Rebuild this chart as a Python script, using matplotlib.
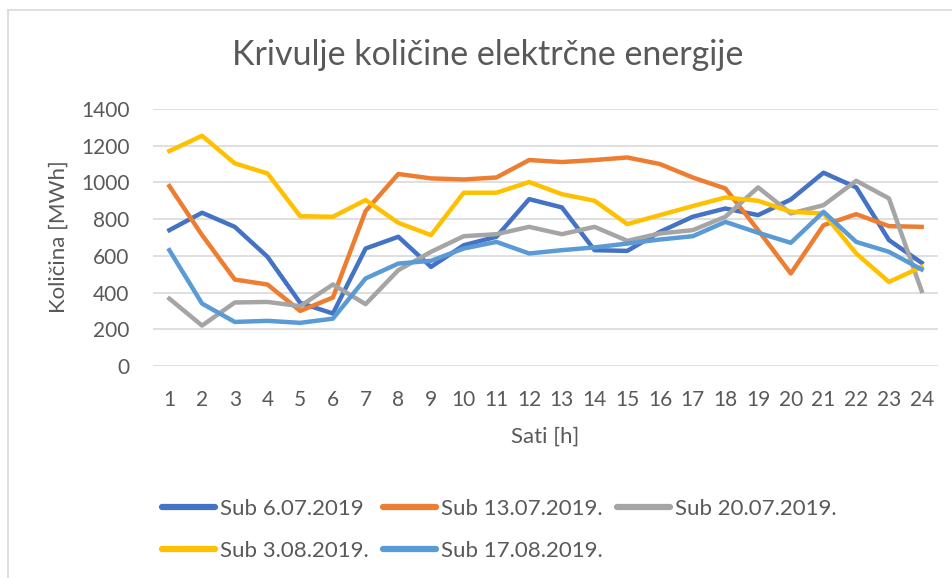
import matplotlib
matplotlib.use("Agg")
import matplotlib.pyplot as plt
from matplotlib.lines import Line2D

# data (MWh per hour)
hours = list(range(1, 25))
sub_0607 = [740, 835, 758, 595, 344, 286, 640, 704, 540, 658, 704, 909,
            864, 631, 627, 731, 813, 858, 822, 907, 1053, 973, 686, 562]
sub_1307 = [980, 713, 471, 444, 300, 373, 844, 1046, 1022, 1016, 1027, 1122,
            1111, 1122, 1136, 1100, 1027, 967, 740, 504, 767, 827, 762, 758]
sub_2007 = [367, 220, 346, 349, 326, 444, 337, 522, 622, 707, 718, 758,
            718, 758, 682, 722, 740, 813, 973, 831, 876, 1009, 913, 409]
sub_0308 = [1171, 1254, 1104, 1049, 816, 813, 904, 780, 713, 944, 944, 1002,
            936, 900, 773, 822, 871, 918, 900, 840, 831, 613, 458, 540]
sub_1708 = [631, 340, 240, 246, 235, 258, 477, 558, 573, 640, 676, 613,
            631, 646, 667, 689, 707, 785, 726, 671, 840, 676, 622, 526]

labels = ["Sub 6.07.2019", "Sub 13.07.2019.", "Sub 20.07.2019.",
          "Sub 3.08.2019.", "Sub 17.08.2019."]
colors = ["#4472C4", "#ED7D31", "#A5A5A5", "#FFC000", "#5B9BD5"]
series = [sub_0607, sub_1307, sub_2007, sub_0308, sub_1708]

txt = "#595959"
plt.rcParams["font.family"] = ["Lato", "DejaVu Sans"]

W, H = 953, 578
fig = plt.figure(figsize=(W / 100, H / 100), dpi=100)
ax = fig.add_axes([153 / W, 1 - 366 / H, (938 - 153) / W, (366 - 109) / H])

lines = []
for vals, lab, col in zip(series, labels, colors):
    l, = ax.plot(hours, vals, color=col, lw=3.2, label=lab, solid_joinstyle="round")
    lines.append(l)

ax.set_xlim(0.5, 24.5)
ax.set_ylim(0, 1400)
ax.set_yticks(range(0, 1401, 200))
ax.set_xticks(hours)
ax.grid(axis="y", color="#D9D9D9", lw=1.2)
ax.set_axisbelow(True)
for s in ax.spines.values():
    s.set_visible(False)
ax.tick_params(length=0, labelsize=15, colors=txt)
ax.tick_params(axis="x", pad=17)
ax.tick_params(axis="y", pad=17)

fig.text(545 / W, 1 - 437 / H, "Sati [h]", ha="center", va="center", fontsize=16, color=txt)
fig.text(59 / W, 1 - 237 / H, "Količina [MWh]", ha="center", va="center",
         rotation=90, fontsize=16, color=txt)
fig.text(488 / W, 1 - 55 / H, "Krivulje količine elektrčne energije",
         ha="center", va="center", fontsize=24.5, color=txt)

# legend filled row by row (3 columns)
order = [0, 3, 1, 4, 2]
leg = fig.legend([lines[i] for i in order], [labels[i] for i in order],
                 ncol=3, loc="upper left", bbox_to_anchor=(162 / W, 1 - 499 / H),
                 frameon=False, fontsize=16, handlelength=2.4, handletextpad=0.2,
                 columnspacing=0.65, labelspacing=1.0, borderpad=0, borderaxespad=0)
for t in leg.get_texts():
    t.set_color(txt)
for h in leg.legend_handles:
    h.set_linewidth(4.5)
    h.set_solid_capstyle("round")

# chart border (only left and top visible in the crop)
fig.add_artist(Line2D([8 / W, 8 / W], [0, 1 - 10 / H], color="#D9D9D9", lw=1.2))
fig.add_artist(Line2D([8 / W, 1], [1 - 10 / H, 1 - 10 / H], color="#D9D9D9", lw=1.2))

fig.savefig("out.png", dpi=100)
